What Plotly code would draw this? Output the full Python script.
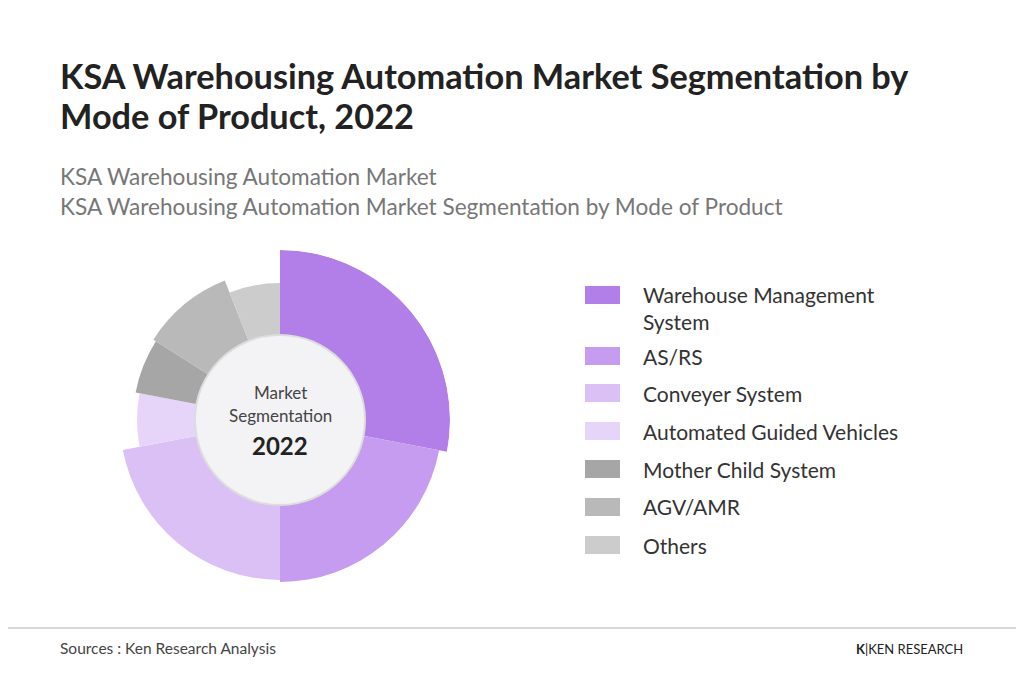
import plotly.graph_objects as go

categories = ["Warehouse Management<br>System", "AS/RS", "Conveyer System", "Automated Guided Vehicles",
              "Mother Child System", "AGV/AMR", "Others"]
shares = [28, 22, 22, 6, 6, 10, 6]
radii = [170, 162, 160, 143, 147, 150, 137]
colors = ["#b27fe9", "#c59cef", "#dbc0f6", "#e6d5f9", "#a6a6a6", "#b9b9b9", "#cccccc"]

W, H = 1024, 687
OFF = 8
thetas, widths, start = [], [], 0.0
for s in shares:
    w = s * 3.6
    thetas.append(start + w / 2)
    widths.append(w)
    start += w

def px(x): return (x - OFF) / W
def py(y): return 1 - (y - OFF) / H

fig = go.Figure(go.Barpolar(r=radii, theta=thetas, width=widths, marker=dict(color=colors, line=dict(width=0)),
                            hoverinfo="skip"))
cx, cy, R = 280, 420, 170
fig.update_layout(
    width=W, height=H, margin=dict(l=0, r=0, t=0, b=0), paper_bgcolor="white", showlegend=False,
    font=dict(family="Lato", color="#333"),
    polar=dict(domain=dict(x=[px(cx - R), px(cx + R)], y=[py(cy + R), py(cy - R)]),
               bgcolor="rgba(0,0,0,0)",
               angularaxis=dict(rotation=90, direction="clockwise", visible=False),
               radialaxis=dict(range=[0, R], visible=False)),
)
shapes, ann = [], []
ri = 84
shapes.append(dict(type="circle", xref="paper", yref="paper", x0=px(cx - ri - 2), x1=px(cx + ri + 2),
                   y0=py(cy + ri + 2), y1=py(cy - ri - 2), fillcolor="#dddddd", line=dict(width=0)))
shapes.append(dict(type="circle", xref="paper", yref="paper", x0=px(cx - ri), x1=px(cx + ri),
                   y0=py(cy + ri), y1=py(cy - ri), fillcolor="#f3f3f5", line=dict(width=0)))
ann.append(dict(x=px(cx), y=py(392), text="Market", font=dict(size=17, color="#444")))
ann.append(dict(x=px(cx), y=py(415), text="Segmentation", font=dict(size=17, color="#444")))
ann.append(dict(x=px(cx), y=py(445), text="<b>2022</b>", font=dict(size=24, color="#222")))

ycent = [295, 356, 393, 431, 469, 507, 545]
ytext = [308, 356, 393, 431, 469, 507, 545]
for c, lab, yc, yt in zip(colors, categories, ycent, ytext):
    shapes.append(dict(type="rect", xref="paper", yref="paper", x0=px(585), x1=px(620), y0=py(yc + 9), y1=py(yc - 9),
                       fillcolor=c, line=dict(width=0)))
    ann.append(dict(x=px(641), y=py(yt), text=lab, xanchor="left", align="left", font=dict(size=21, color="#333")))
ann.append(dict(x=px(58), y=py(75), text="<b>KSA Warehousing Automation Market Segmentation by</b>", xanchor="left",
                font=dict(size=34.3, color="#222")))
ann.append(dict(x=px(58), y=py(115), text="<b>Mode of Product, 2022</b>", xanchor="left", font=dict(size=34.3, color="#222")))
ann.append(dict(x=px(58), y=py(176), text="KSA Warehousing Automation Market", xanchor="left", font=dict(size=22.6, color="#777")))
ann.append(dict(x=px(58), y=py(206), text="KSA Warehousing Automation Market Segmentation by Mode of Product", xanchor="left",
                font=dict(size=22.6, color="#777")))
shapes.append(dict(type="line", xref="paper", yref="paper", x0=-0.02, x1=1.02, y0=py(628), y1=py(628), line=dict(color="#c8c8c8", width=1.5)))
ann.append(dict(x=px(58), y=py(648), text="Sources : Ken Research Analysis", xanchor="left", font=dict(size=15.5, color="#444")))
ann.append(dict(x=px(965), y=py(649), text="<b>K</b>|KEN RESEARCH", xanchor="right", font=dict(size=13, color="#222")))
for a in ann:
    a.update(xref="paper", yref="paper", showarrow=False, yanchor="middle")
    a.setdefault("xanchor", "center")
fig.update_layout(shapes=shapes, annotations=ann)
fig.write_html("out.html")
